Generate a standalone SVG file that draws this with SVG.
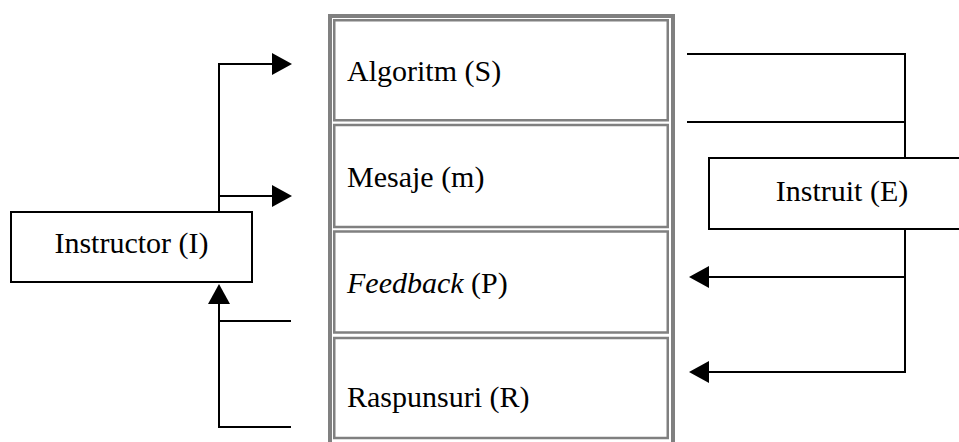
<svg xmlns="http://www.w3.org/2000/svg" width="959" height="442" viewBox="0 0 959 442">
  <style>
    .cell { fill: #ffffff; stroke: #808080; stroke-width: 2.5; }
    .frame { fill: none; stroke: #808080; stroke-width: 4; }
    .box { fill: #ffffff; stroke: #000000; stroke-width: 2; }
    .lbl { font-family: "Liberation Serif", "Times New Roman", serif; font-size: 30px; fill: #000000; }
    .conn { fill: none; stroke: #000000; stroke-width: 2; }
  </style>
  <defs>
    <marker id="arrow" markerUnits="userSpaceOnUse" viewBox="0 0 20 22" markerWidth="20" markerHeight="22" refX="0" refY="11" orient="auto">
      <path d="M0,0 L20,11 L0,22 Z" fill="#000000"/>
    </marker>
  </defs>
  <rect width="959" height="442" fill="#ffffff"/>

  <g id="table">
    <rect class="frame" x="330" y="16" width="343" height="440"/>
    <g id="algoritm">
      <rect class="cell" x="334.25" y="20.25" width="333.5" height="100"/>
      <text class="lbl" x="347" y="81">Algoritm (S)</text>
    </g>
    <g id="mesaje">
      <rect class="cell" x="334.25" y="125" width="333.5" height="102"/>
      <text class="lbl" x="347" y="187">Mesaje (m)</text>
    </g>
    <g id="feedback">
      <rect class="cell" x="334.25" y="231.5" width="333.5" height="101"/>
      <text class="lbl" x="347" y="293"><tspan font-style="italic">Feedback</tspan> (P)</text>
    </g>
    <g id="raspunsuri">
      <rect class="cell" x="334.25" y="338" width="333.5" height="100"/>
      <text class="lbl" x="347" y="407">Raspunsuri (R)</text>
    </g>
  </g>

  <g id="instructor">
    <rect class="box" x="11" y="212" width="241" height="70"/>
    <text class="lbl" x="131.5" y="253" text-anchor="middle">Instructor (I)</text>
  </g>

  <g id="instruit">
    <rect class="box" x="709" y="158" width="266" height="71"/>
    <text class="lbl" x="842" y="201" text-anchor="middle">Instruit (E)</text>
  </g>

  <g id="connectors">
    <path class="conn" d="M219,212 V64 H272" marker-end="url(#arrow)"/>
    <path class="conn" d="M219,196 H272" marker-end="url(#arrow)"/>
    <path class="conn" d="M291,427 H219 V304" marker-end="url(#arrow)"/>
    <path class="conn" d="M291,321 H219"/>
    <path class="conn" d="M687,54 H905 V158"/>
    <path class="conn" d="M687,122 H905"/>
    <path class="conn" d="M905,229 V372 H709" marker-end="url(#arrow)"/>
    <path class="conn" d="M905,277 H709" marker-end="url(#arrow)"/>
  </g>
</svg>
